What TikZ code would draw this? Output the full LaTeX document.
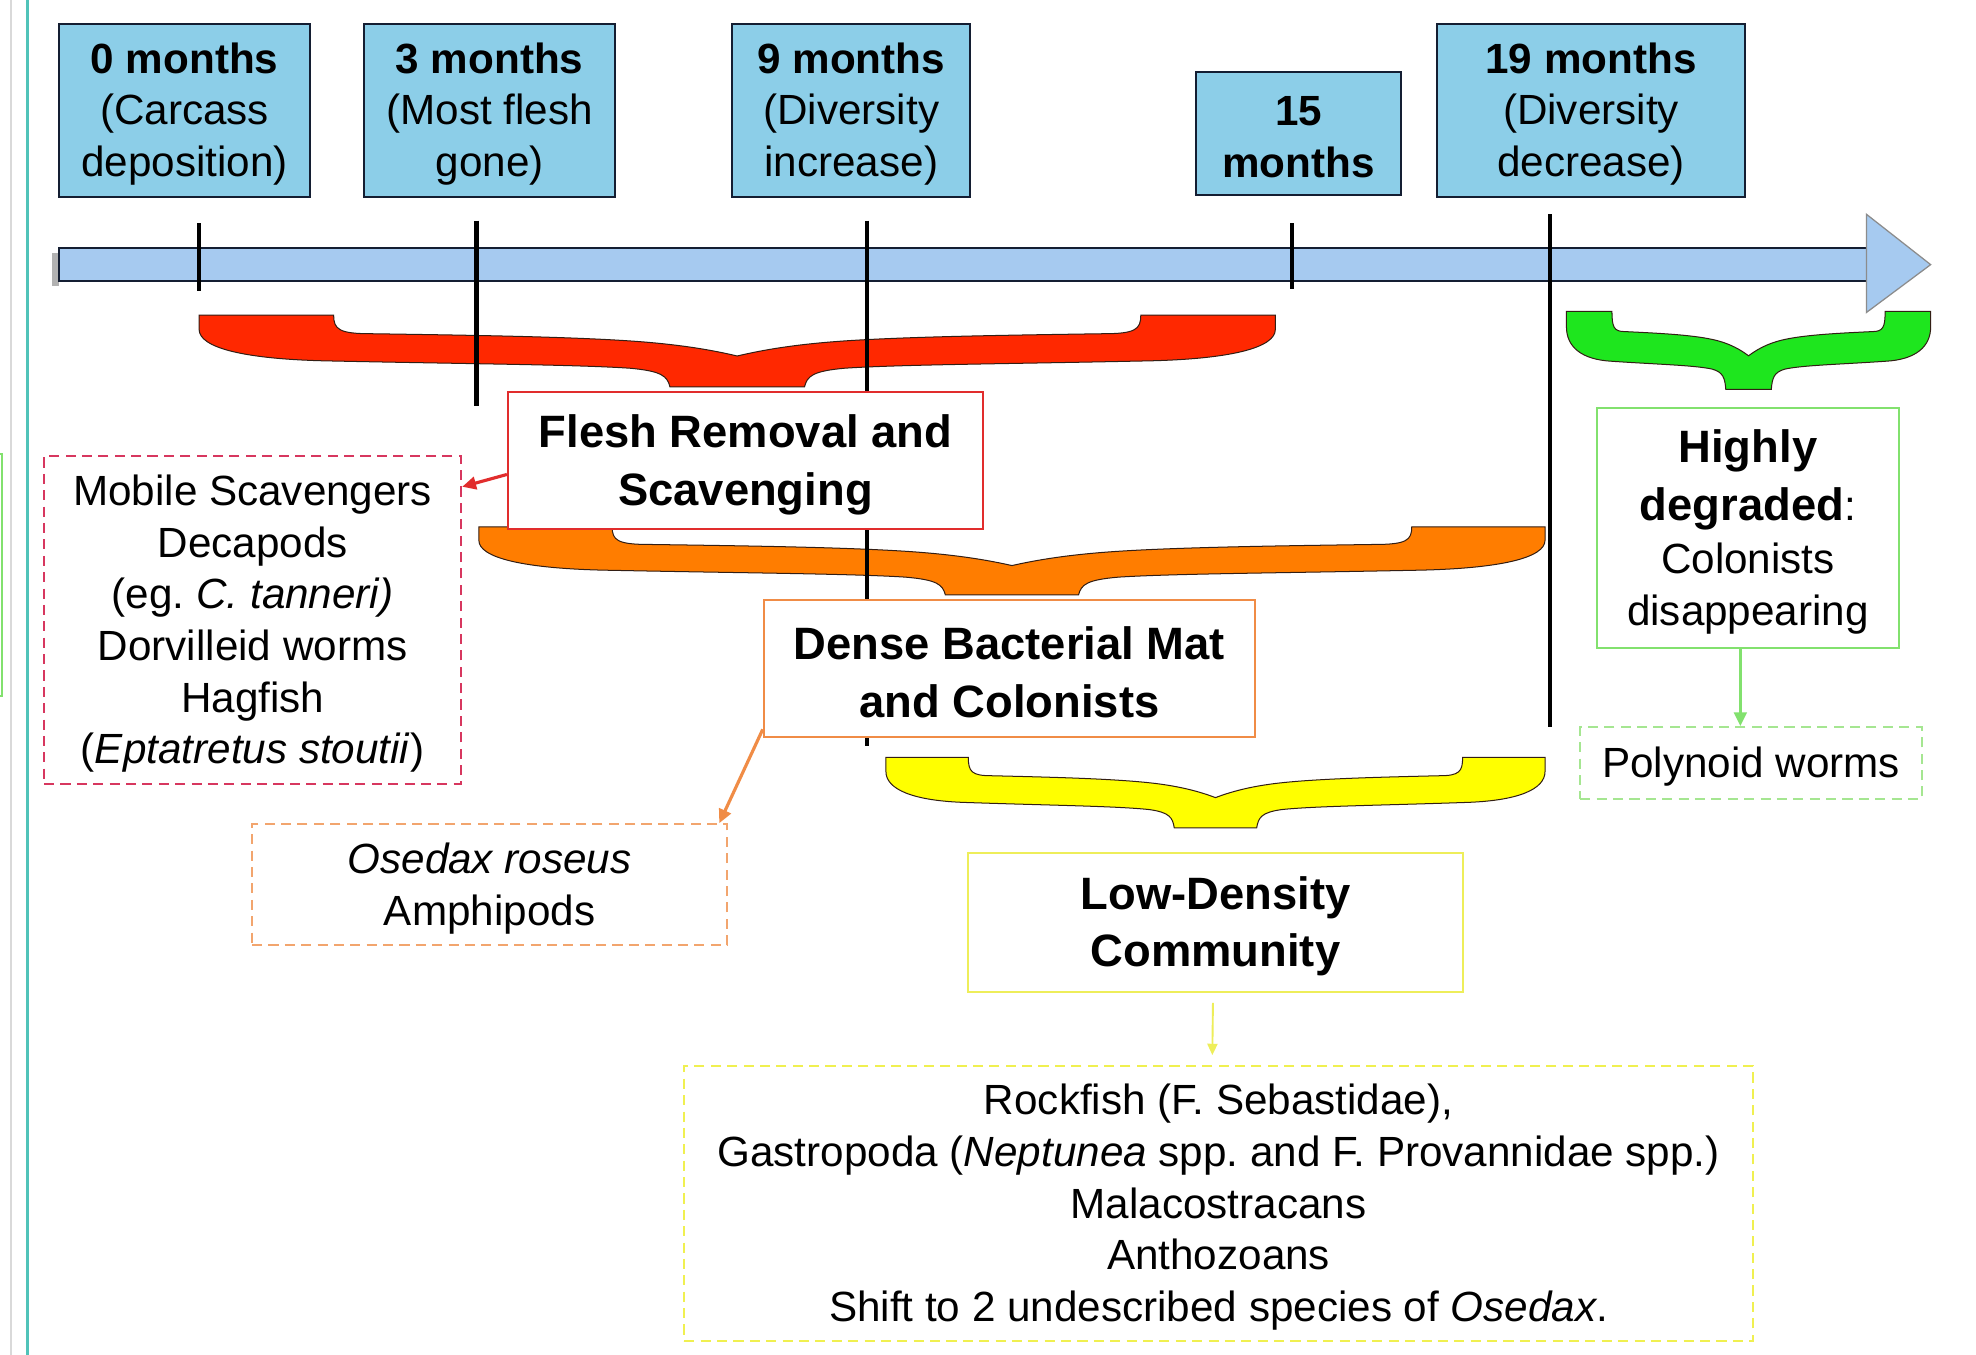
\documentclass[tikz,border=0pt]{standalone}
\usepackage{fontspec}
\setmainfont{Liberation Sans}
\usetikzlibrary{arrows.meta}
\frenchspacing
\definecolor{topblue}{RGB}{140,206,232}
\definecolor{barblue}{RGB}{166,202,240}
\definecolor{navy}{RGB}{20,30,50}
\definecolor{bred}{RGB}{255,40,0}
\definecolor{borange}{RGB}{255,125,0}
\definecolor{byellow}{RGB}{255,255,0}
\definecolor{bgreen}{RGB}{30,230,30}
\definecolor{lred}{RGB}{225,45,45}
\definecolor{lorange}{RGB}{240,140,70}
\definecolor{lyellow}{RGB}{238,238,90}
\definecolor{lgreen}{RGB}{130,225,110}
\definecolor{dcrimson}{RGB}{215,55,95}
\definecolor{dorange}{RGB}{242,165,110}
\definecolor{dgreen}{RGB}{165,230,145}
\definecolor{dyellow}{RGB}{240,240,80}
\definecolor{edgeteal}{RGB}{80,195,185}
\definecolor{braceedge}{RGB}{50,30,20}

\newcommand{\mybrace}[5]{%
  \pgfmathsetmacro{\bxc}{(#1+#2)/2}%
  \pgfmathsetmacro{\bhw}{(#2-#1)/2}%
  \begin{scope}[shift={(\bxc,#3)}, xscale=\bhw, yscale=#4]
    \filldraw[fill=#5, draw=braceedge, line width=0.8pt]
      (-1,0) -- (-0.75,0)
      .. controls (-0.75,0.2) and (-0.74,0.26) .. (-0.68,0.26)
      .. controls (-0.5,0.28) and (-0.32,0.3) .. (-0.2,0.36)
      .. controls (-0.1,0.41) and (-0.04,0.5) .. (0,0.57)
      .. controls (0.04,0.5) and (0.1,0.41) .. (0.2,0.36)
      .. controls (0.32,0.3) and (0.5,0.28) .. (0.68,0.26)
      .. controls (0.74,0.26) and (0.75,0.2) .. (0.75,0)
      -- (1,0) -- (1,0.2)
      .. controls (1,0.45) and (0.92,0.62) .. (0.75,0.64)
      .. controls (0.5,0.68) and (0.3,0.69) .. (0.2,0.74)
      .. controls (0.14,0.78) and (0.13,0.85) .. (0.125,1)
      -- (-0.125,1)
      .. controls (-0.13,0.85) and (-0.14,0.78) .. (-0.2,0.74)
      .. controls (-0.3,0.69) and (-0.5,0.68) .. (-0.75,0.64)
      .. controls (-0.92,0.62) and (-1,0.45) .. (-1,0.2)
      -- cycle;
  \end{scope}}

\begin{document}
\begin{tikzpicture}[x=1pt,y=-1pt,
  reg/.style={font=\fontsize{33.5}{41}\selectfont},
  boldbig/.style={font=\bfseries\fontsize{36}{46}\selectfont},
  topbox/.style={draw=navy, fill=topblue, line width=1.6pt, inner sep=0pt},
  stagebox/.style={draw=#1, fill=white, line width=1.5pt, inner sep=0pt},
  listbox/.style={draw=#1, fill=white, line width=1.5pt, dash pattern=on 8pt off 5pt, inner sep=0pt},
  boxtext/.style={inner sep=0pt, align=center, yshift=-3pt},
  tickline/.style={line width=3.5pt, black},
  arrowlink/.style={line width=2.5pt, -{Triangle[length=11pt,width=10pt]}}
]
\useasboundingbox (0,0) rectangle (1568,1075);
\fill[white] (0,0) rectangle (1568,1075);

% left edge decorations
\draw[black!15, line width=1.5pt] (9,0) -- (9,1075);
\draw[edgeteal, line width=2pt] (22,0) -- (22,1075);
\draw[lgreen, line width=1.5pt] (-20,360) -- (1.5,360) -- (1.5,552) -- (-20,552);

% timeline
\fill[black!30] (41,201) rectangle (47,227);
\draw[navy, line width=1.6pt, fill=barblue] (47,197) rectangle (1482,223);
\filldraw[fill=barblue, draw=black!45, line width=1pt] (1481,170) -- (1532,210) -- (1481,248) -- cycle;

% top boxes
\node[topbox, minimum width=199pt, minimum height=137pt] (m0) at (146.5,87.5) {};
\node[boxtext, reg] (m0t) at (m0.center) {\textbf{0 months}\\(Carcass\\deposition)};
\node[topbox, minimum width=199pt, minimum height=137pt] (m3) at (388.5,87.5) {};
\node[boxtext, reg] (m3t) at (m3.center) {\textbf{3 months}\\(Most flesh\\gone)};
\node[topbox, minimum width=189pt, minimum height=137pt] (m9) at (675.5,87.5) {};
\node[boxtext, reg] (m9t) at (m9.center) {\textbf{9 months}\\(Diversity\\increase)};
\node[topbox, minimum width=163pt, minimum height=98pt] (m15) at (1030.5,106) {};
\node[boxtext, reg] (m15t) at (m15.center) {\textbf{15}\\\textbf{months}};
\node[topbox, minimum width=245pt, minimum height=137pt] (m19) at (1262.5,87.5) {};
\node[boxtext, reg] (m19t) at (m19.center) {\textbf{19 months}\\(Diversity\\decrease)};

% braces
\mybrace{158}{1012}{250}{57}{bred}
\mybrace{380}{1226}{418}{54}{borange}
\mybrace{703}{1226}{601}{56}{byellow}
\mybrace{1243}{1532}{247}{62}{bgreen}

% ticks
\draw[tickline] (158,177) -- (158,231);
\draw[tickline] (378,175) -- (378,322);
\draw[tickline] (688,175) -- (688,592);
\draw[tickline] (1025,177) -- (1025,229);
\draw[tickline] (1230,170) -- (1230,577);

% stage boxes
\node[stagebox=lred, minimum width=377pt, minimum height=109pt] (flesh) at (591.5,365.5) {};
\node[boxtext, boldbig] (fleshT) at (flesh.center) {Flesh Removal and\\Scavenging};
\node[stagebox=lorange, minimum width=390pt, minimum height=109pt] (dense) at (801,530.5) {};
\node[boxtext, boldbig] (denseT) at (dense.center) {Dense Bacterial Mat\\and Colonists};
\node[stagebox=lyellow, minimum width=393pt, minimum height=110pt] (low) at (964.5,732) {};
\node[boxtext, boldbig] (lowT) at (low.center) {Low-Density\\Community};
\node[stagebox=lgreen, minimum width=240pt, minimum height=190pt] (highly) at (1387,419) {};
\node[boxtext, reg] (highlyT) at (highly.center)
  {{\bfseries\fontsize{36}{46}\selectfont Highly}\\[5pt]{\bfseries\fontsize{36}{46}\selectfont degraded}:\\[1pt]Colonists\\disappearing};

% list boxes
\node[listbox=dcrimson, minimum width=331pt, minimum height=260pt] (mobile) at (200.5,492) {};
\node[boxtext, reg] (mobileT) at (mobile.center)
  {Mobile Scavengers\\Decapods\\(eg. \textit{C. tanneri)}\\Dorvilleid worms\\Hagfish\\(\textit{Eptatretus stoutii})};
\node[listbox=dorange, minimum width=377pt, minimum height=96pt] (osedax) at (388.5,702) {};
\node[boxtext, reg] (osedaxT) at (osedax.center) {\textit{Osedax roseus}\\Amphipods};
\node[listbox=dgreen, minimum width=271pt, minimum height=57pt] (polynoid) at (1389.5,605.5) {};
\node[boxtext, reg] (polynoidT) at (polynoid.center) {Polynoid worms};
\node[listbox=dyellow, minimum width=848pt, minimum height=218pt] (community) at (967,955) {};
\node[boxtext, reg] (communityT) at (community.center)
  {Rockfish (F. Sebastidae),\\Gastropoda (\textit{Neptunea} spp. and F. Provannidae spp.)\\Malacostracans\\Anthozoans\\Shift to 2 undescribed species of \textit{Osedax}.};

% connectors
\draw[arrowlink, lred] ([yshift=-11pt]flesh.west) -- ([yshift=-25pt]mobile.north east);
\draw[arrowlink, lorange] ([yshift=7pt]dense.south west) -- ([xshift=-7pt]osedax.north east);
\draw[arrowlink, lgreen] ([xshift=-6pt]highly.south) -- ([xshift=-6pt]highly.south |- polynoid.north);
\draw[lyellow, line width=1.5pt, -{Triangle[length=9pt,width=8pt]}] ([yshift=-8pt,xshift=-2pt]low.south) -- ([yshift=8pt,xshift=-5pt]community.north);
\end{tikzpicture}
\end{document}
